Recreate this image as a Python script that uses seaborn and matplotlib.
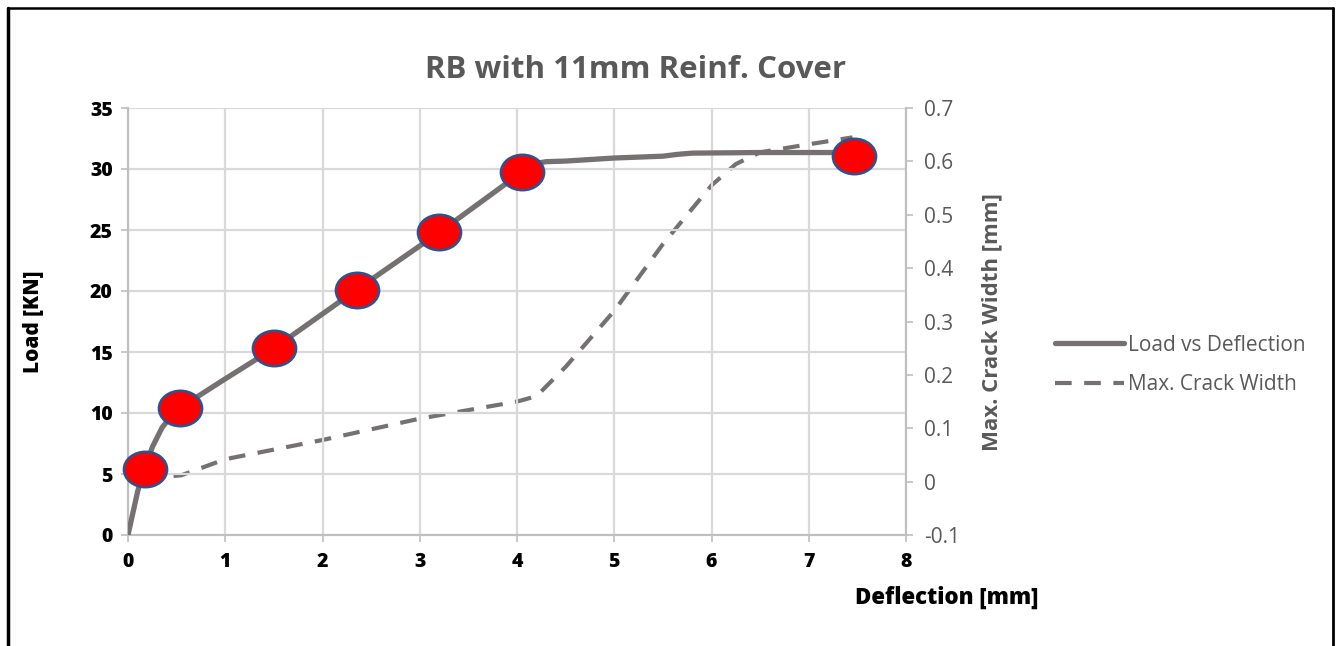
import numpy as np
import pandas as pd
import matplotlib
matplotlib.use("Agg")
import matplotlib.pyplot as plt
from matplotlib.path import Path
from matplotlib.lines import Line2D
import seaborn as sns

# ---- data ----
load_defl = [0.0, 0.05, 0.10, 0.17, 0.25, 0.35, 0.45, 0.53, 1.0, 1.5, 2.35, 3.2,
             4.05, 4.15, 4.3, 4.5, 5.0, 5.5, 5.65, 5.8, 6.5, 7.5]
load_kn = [0.0, 1.8, 3.6, 5.4, 7.2, 8.8, 9.8, 10.4, 12.8, 15.3, 20.1, 24.8,
           29.75, 30.4, 30.6, 30.65, 30.9, 31.05, 31.2, 31.3, 31.35, 31.35]

marker_defl = [0.17, 0.53, 1.5, 2.35, 3.2, 4.05, 7.47]
marker_load = [5.4, 10.4, 15.3, 20.1, 24.8, 29.75, 31.1]

crack_defl = [0.17, 0.55, 1.0, 2.0, 3.0, 4.0, 4.2, 4.5, 5.0, 5.5, 6.0, 6.25, 6.5, 7.0, 7.45]
crack_mm = [0.005, 0.012, 0.042, 0.078, 0.118, 0.15, 0.16, 0.215, 0.32, 0.445, 0.555, 0.595, 0.617, 0.632, 0.645]

title = "RB with 11mm Reinf. Cover"
xlabel = "Deflection [mm]"
ylabel_left = "Load [KN]"
ylabel_right = "Max. Crack Width [mm]"
legend_labels = ["Load vs Deflection", "Max. Crack Width"]

sns.set_theme(style="white")
plt.rcParams['font.family'] = ['Open Sans', 'DejaVu Sans']

W, H = 1336, 646
fig = plt.figure(figsize=(W / 100, H / 100), dpi=100)
ax = fig.add_axes([128 / W, 1 - 535 / H, (906 - 128) / W, (535 - 108) / H])
ax2 = ax.twinx()

line_color = "#767171"
grid_color = "#d9d9d9"
spine_color = "#bfbfbf"

df_load = pd.DataFrame({"x": load_defl, "y": load_kn})
df_crack = pd.DataFrame({"x": crack_defl, "y": crack_mm})
df_mark = pd.DataFrame({"x": marker_defl, "y": marker_load})

sns.lineplot(data=df_load, x="x", y="y", ax=ax, color=line_color, lw=3.8,
             sort=False, estimator=None, zorder=3)
sns.lineplot(data=df_crack, x="x", y="y", ax=ax2, color=line_color, lw=3.0,
             sort=False, estimator=None, zorder=2)
ax2.lines[0].set_dashes([4, 3])
for ln in ax.lines + ax2.lines:
    ln.set_solid_joinstyle("round")
    ln.set_dash_joinstyle("round")

# elliptical marker
circ = Path.unit_circle()
ell = Path(circ.vertices * np.array([1.22, 1.0]), circ.codes)

ax.set_zorder(ax2.get_zorder() + 1)
ax.patch.set_visible(False)
ax.plot(df_mark["x"], df_mark["y"], ls="none", marker=ell, markersize=31,
        markerfacecolor="#ff0000", markeredgecolor="#2f528f", markeredgewidth=1.9,
        zorder=5, clip_on=False)

ax.set_xlim(0, 8)
ax.set_ylim(0, 35)
ax2.set_ylim(-0.1, 0.7)
ax.set_xticks(range(0, 9))
ax.set_yticks(range(0, 36, 5))
ax2.set_yticks(np.round(np.arange(-0.1, 0.71, 0.1), 1))
ax2.set_yticklabels(["-0.1", "0", "0.1", "0.2", "0.3", "0.4", "0.5", "0.6", "0.7"])

ax.grid(True, color=grid_color, lw=1.6, zorder=0)
ax2.grid(False)
ax.set_axisbelow(True)

for a in (ax, ax2):
    a.spines["top"].set_visible(False)
    for s in ("left", "right", "bottom"):
        a.spines[s].set_color(spine_color)
        a.spines[s].set_linewidth(1.5)

ax.tick_params(axis="both", which="both", length=5, width=1.2, color=spine_color,
               labelsize=14, labelcolor="black", direction="out", pad=6)
ax.tick_params(axis="x", bottom=True, length=5, pad=7)
ax.tick_params(axis="y", left=True)
for lab in ax.get_xticklabels() + ax.get_yticklabels():
    lab.set_fontweight("heavy")
ax2.tick_params(axis="y", right=True, length=5, width=1.2, color=spine_color,
                labelsize=15, labelcolor="#595959", pad=8)

ax.set_xlabel("")
ax.set_ylabel("")
ax2.set_ylabel("")

fig.text(33 / W, 1 - 322 / H, ylabel_left, rotation=90, ha="center", va="center",
         fontsize=15, fontweight="heavy", color="black")
fig.text(992 / W, 1 - 322 / H, ylabel_right, rotation=90, ha="center", va="center",
         fontsize=16, fontweight="bold", color="#595959")
fig.text(947 / W, 1 - 598 / H, xlabel, ha="center", va="center",
         fontsize=16, fontweight="heavy", color="black")
fig.text(636 / W, 1 - 70 / H, title, ha="center", va="center",
         fontsize=22.5, fontweight="bold", color="#595959")

handles = [Line2D([], [], color=line_color, lw=3.8),
           Line2D([], [], color=line_color, lw=3.0, dashes=[4, 3])]
fig.legend(handles, legend_labels, loc="center left",
           bbox_to_anchor=(1036 / W, 1 - 365 / H), frameon=False,
           fontsize=15, labelcolor="#595959", handlelength=3.3,
           handletextpad=0.2, labelspacing=0.9)

# outer border
fig.add_artist(Line2D([8 / W, 8 / W], [0, 1 - 8 / H], color="black", lw=2.5,
                      transform=fig.transFigure))
fig.add_artist(Line2D([8 / W, 1333 / W], [1 - 8 / H, 1 - 8 / H], color="black", lw=1.8,
                      transform=fig.transFigure))
fig.add_artist(Line2D([1333 / W, 1333 / W], [0, 1 - 8 / H], color="black", lw=2.0,
                      transform=fig.transFigure))

fig.savefig("out.png", dpi=100, facecolor="white")
